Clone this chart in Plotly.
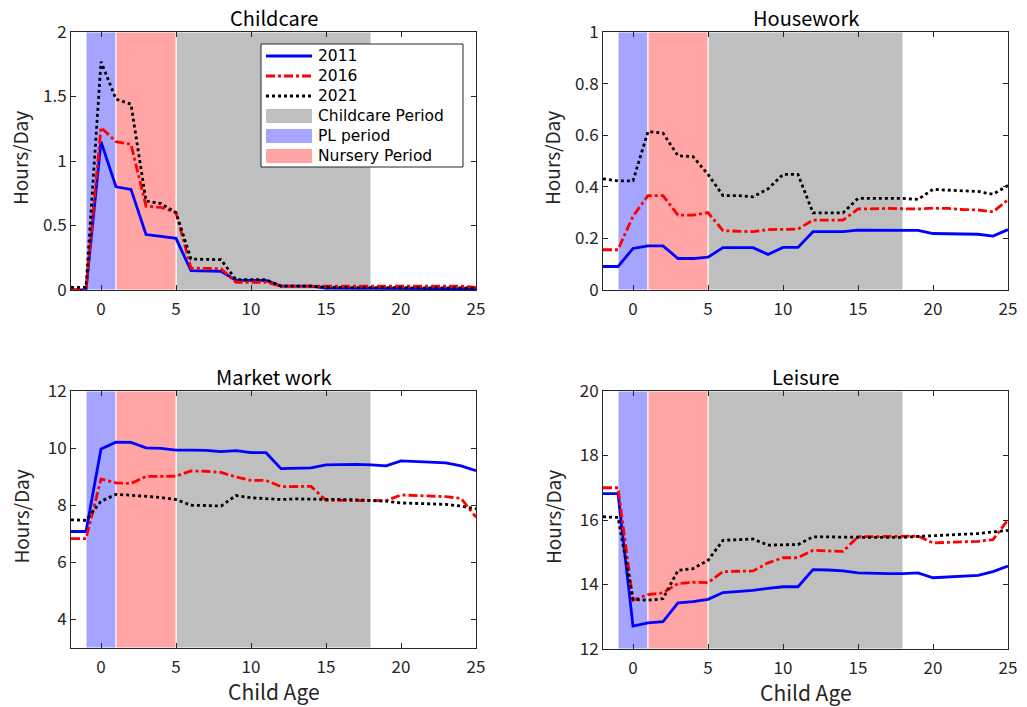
import plotly.graph_objects as go

# child age on the x axis
ages = list(range(-2, 26))

# Childcare (hours/day)
childcare_2011 = [0.0, 0.0, 1.15, 0.80, 0.78, 0.43, 0.415, 0.40, 0.15, 0.145, 0.145, 0.075, 0.075, 0.075,
                  0.03, 0.03, 0.03, 0.015, 0.012, 0.012, 0.012, 0.012, 0.012, 0.012, 0.012, 0.012, 0.012, 0.01]
childcare_2016 = [0.0, 0.0, 1.26, 1.15, 1.13, 0.65, 0.64, 0.60, 0.17, 0.17, 0.165, 0.06, 0.06, 0.06,
                  0.03, 0.03, 0.03, 0.025, 0.025, 0.025, 0.025, 0.025, 0.03, 0.03, 0.03, 0.03, 0.03, 0.02]
childcare_2021 = [0.02, 0.02, 1.77, 1.48, 1.44, 0.69, 0.67, 0.60, 0.24, 0.235, 0.235, 0.08, 0.08, 0.08,
                  0.03, 0.03, 0.03, 0.02, 0.02, 0.02, 0.02, 0.02, 0.02, 0.02, 0.02, 0.02, 0.02, 0.015]

# Housework (hours/day)
housework_2011 = [0.091, 0.091, 0.161, 0.171, 0.171, 0.122, 0.122, 0.127, 0.164, 0.164, 0.164, 0.138, 0.165, 0.165,
                  0.226, 0.226, 0.226, 0.232, 0.232, 0.232, 0.232, 0.231, 0.219, 0.218, 0.217, 0.216, 0.209, 0.234]
housework_2016 = [0.156, 0.156, 0.286, 0.366, 0.366, 0.29, 0.29, 0.30, 0.23, 0.227, 0.226, 0.234, 0.234, 0.236,
                  0.271, 0.271, 0.271, 0.314, 0.316, 0.316, 0.315, 0.314, 0.317, 0.316, 0.312, 0.31, 0.303, 0.35]
housework_2021 = [0.431, 0.423, 0.423, 0.614, 0.608, 0.52, 0.517, 0.448, 0.366, 0.366, 0.361, 0.392, 0.448, 0.448,
                  0.299, 0.299, 0.299, 0.355, 0.355, 0.355, 0.355, 0.351, 0.39, 0.387, 0.384, 0.382, 0.371, 0.405]

# Market work (hours/day)
market_2011 = [7.08, 7.08, 9.97, 10.21, 10.20, 10.01, 9.99, 9.93, 9.93, 9.92, 9.88, 9.91, 9.84, 9.84,
               9.28, 9.29, 9.31, 9.41, 9.43, 9.43, 9.41, 9.38, 9.55, 9.52, 9.50, 9.48, 9.38, 9.21]
market_2016 = [6.83, 6.83, 8.92, 8.78, 8.76, 9.01, 9.01, 9.02, 9.20, 9.19, 9.15, 8.99, 8.87, 8.87,
               8.65, 8.66, 8.66, 8.17, 8.17, 8.17, 8.17, 8.16, 8.36, 8.34, 8.31, 8.30, 8.24, 7.58]
market_2021 = [7.49, 7.47, 8.14, 8.38, 8.35, 8.31, 8.27, 8.20, 8.00, 7.99, 7.97, 8.34, 8.26, 8.23,
               8.20, 8.22, 8.22, 8.21, 8.20, 8.19, 8.17, 8.14, 8.08, 8.07, 8.06, 8.03, 7.97, 7.87]

# Leisure (hours/day)
leisure_2011 = [16.82, 16.82, 12.71, 12.81, 12.85, 13.43, 13.47, 13.54, 13.75, 13.78, 13.82, 13.88, 13.93, 13.93,
                14.46, 14.45, 14.42, 14.36, 14.34, 14.34, 14.34, 14.36, 14.21, 14.23, 14.25, 14.28, 14.40, 14.57]
leisure_2016 = [17.00, 17.00, 13.51, 13.69, 13.74, 14.03, 14.07, 14.06, 14.40, 14.41, 14.42, 14.67, 14.83, 14.83,
                15.06, 15.04, 15.03, 15.48, 15.49, 15.49, 15.49, 15.50, 15.29, 15.31, 15.32, 15.34, 15.39, 16.01]
leisure_2021 = [16.10, 16.08, 13.54, 13.51, 13.56, 14.44, 14.49, 14.75, 15.37, 15.39, 15.41, 15.22, 15.22, 15.24,
                15.48, 15.47, 15.46, 15.46, 15.46, 15.46, 15.46, 15.49, 15.51, 15.53, 15.55, 15.58, 15.63, 15.68]

# shaded periods (child age)
period_names = ["Childcare Period", "PL period", "Nursery Period"]
period_start = [5, -1, 1]
period_end = [18, 1, 5]
period_colors = ["#BFBFBF", "#A5A5FF", "#FFA5A5"]

years = ["2011", "2016", "2021"]
year_colors = ["#0000FF", "#FF0000", "#000000"]
year_dashes = ["solid", "dashdot", "dot"]

panels = [
    ("Childcare", [childcare_2011, childcare_2016, childcare_2021], [0, 2], [0, 0.5, 1, 1.5, 2], ["0", "0.5", "1", "1.5", "2"]),
    ("Housework", [housework_2011, housework_2016, housework_2021], [0, 1], [0, 0.2, 0.4, 0.6, 0.8, 1], ["0", "0.2", "0.4", "0.6", "0.8", "1"]),
    ("Market work", [market_2011, market_2016, market_2021], [3, 12], [4, 6, 8, 10, 12], ["4", "6", "8", "10", "12"]),
    ("Leisure", [leisure_2011, leisure_2016, leisure_2021], [12, 20], [12, 14, 16, 18, 20], ["12", "14", "16", "18", "20"]),
]

FONT = "Noto Sans CJK JP, Liberation Sans, Arial"
LEGEND_FONT = "DejaVu Sans, Noto Sans, Arial"
INK = "#262626"
W, H = 1027, 707
LW = 2.8

# panel boxes in pixels (left, right, top, bottom)
boxes = [(71, 476, 32, 290), (603, 1008, 32, 290), (71, 476, 391, 648), (603, 1008, 391, 649)]


def px(x):
    return x / W


def py(y):
    return 1 - y / H


fig = go.Figure()
layout = dict()

for i, (title, series, yr, yt, ytl) in enumerate(panels):
    n = "" if i == 0 else str(i + 1)
    xa, ya = "x" + n, "y" + n
    l, r, t, b = boxes[i]

    for x0, x1, col in zip(period_start, period_end, period_colors):
        fig.add_shape(type="rect", xref=xa, yref=ya + " domain", x0=x0, x1=x1, y0=0, y1=1,
                      fillcolor=col, line=dict(color="white", width=1), layer="below")

    for yr_name, vals, col, dash in zip(years, series, year_colors, year_dashes):
        fig.add_trace(go.Scatter(x=ages, y=vals, xaxis=xa, yaxis=ya, mode="lines", name=yr_name,
                                 line=dict(color=col, dash=dash, width=LW), showlegend=False))

    axis_common = dict(showgrid=False, zeroline=False, showline=True, linecolor=INK, linewidth=1,
                       mirror="allticks", ticks="inside", ticklen=5, tickcolor=INK, automargin=False,
                       tickfont=dict(family=FONT, size=17, color=INK))
    layout["xaxis" + n] = dict(axis_common, domain=[px(l), px(r)], range=[-2, 25], anchor=ya,
                               tickvals=[0, 5, 10, 15, 20, 25], ticklabelstandoff=4)
    layout["yaxis" + n] = dict(axis_common, domain=[py(b), py(t)], range=yr, anchor=xa,
                               tickvals=yt, ticktext=ytl)

    fig.add_annotation(text=title, xref="paper", yref="paper", x=px((l + r) / 2), y=py(t - 15),
                       xanchor="center", yanchor="middle", showarrow=False,
                       font=dict(family=FONT, size=20, color="black"))
    fig.add_annotation(text="Hours/Day", xref="paper", yref="paper", x=px(l - 51), y=py((t + b) / 2 - 3),
                       xanchor="center", yanchor="middle", textangle=-90, showarrow=False,
                       font=dict(family=FONT, size=19, color=INK))
    if i >= 2:
        fig.add_annotation(text="Child Age", xref="paper", yref="paper", x=px((l + r) / 2), y=py(b + 43),
                           xanchor="center", yanchor="middle", showarrow=False,
                           font=dict(family=FONT, size=21, color=INK))

# legend box inside the Childcare panel
leg_l, leg_r, leg_t, leg_b = 261, 463, 44, 167
fig.add_shape(type="rect", xref="paper", yref="paper", x0=px(leg_l), x1=px(leg_r), y0=py(leg_b), y1=py(leg_t),
              fillcolor="white", line=dict(color=INK, width=1), layer="above")
legend_labels = years + period_names
for k, label in enumerate(legend_labels):
    yc = 56 + 20 * k
    if k < 3:
        fig.add_shape(type="line", xref="paper", yref="paper", x0=px(266), x1=px(312), y0=py(yc), y1=py(yc),
                      line=dict(color=year_colors[k], dash=year_dashes[k], width=LW), layer="above")
    else:
        fig.add_shape(type="rect", xref="paper", yref="paper", x0=px(266), x1=px(312), y0=py(yc + 7), y1=py(yc - 7),
                      fillcolor=period_colors[k - 3], line=dict(width=0), layer="above")
    fig.add_annotation(text=label, xref="paper", yref="paper", x=px(317), y=py(yc), xanchor="left",
                       yanchor="middle", showarrow=False, borderpad=0,
                       font=dict(family=LEGEND_FONT, size=15.5, color="black"))

fig.update_layout(
    **layout,
    width=W, height=H,
    margin=dict(l=0, r=0, t=0, b=0, autoexpand=False),
    plot_bgcolor="white", paper_bgcolor="white",
    font=dict(family=FONT, color="black"),
    showlegend=False,
)

# the page's default body margin would shift the figure by 8px
fig.write_html("out.html", config={"displayModeBar": False},
               post_script="document.body.style.margin='0';")
